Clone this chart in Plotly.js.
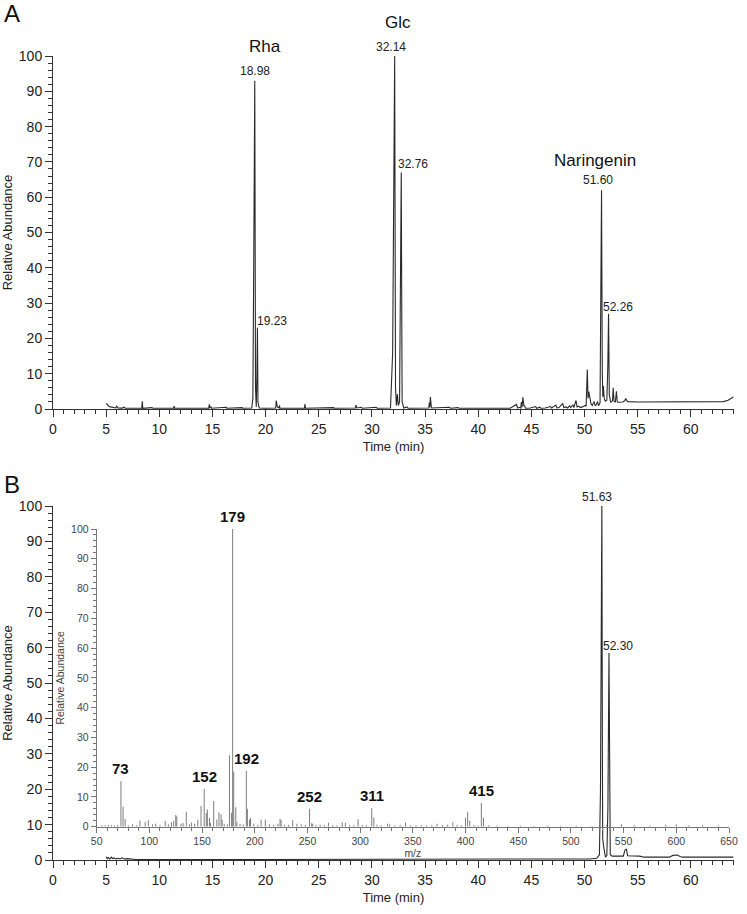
<!DOCTYPE html>
<html><head><meta charset="utf-8">
<script src="https://cdn.plot.ly/plotly-3.0.1.min.js"></script>
<style>html,body{margin:0;padding:0;background:#fff}#chart{width:747px;height:914px}</style>
</head><body><div id="chart"></div>
<script>
// Panel A: chromatogram (time in min, relative abundance %)
const timeA = [5.0,5.1,5.25,5.4,5.6,5.9,6.0,6.1,6.5,6.7,6.8,7.5,8.35,8.4,8.45,9.3,9.4,11.35,11.4,11.45,14.65,14.7,14.75,14.85,14.9,16.3,16.35,17.8,17.85,
  18.7,18.8,18.88,18.98,19.05,19.12,19.18,19.23,19.28,19.4,20.0,20.95,21.0,21.1,21.25,21.3,21.35,23.65,23.7,23.75,26.4,26.45,28.45,28.5,28.6,29.0,29.1,30.4,30.5,
  31.75,31.95,32.05,32.14,32.22,32.3,32.4,32.48,32.6,32.68,32.76,32.84,33.0,33.3,33.4,35.35,35.4,35.45,35.5,35.6,37.3,37.4,38.1,38.2,43.0,
  43.6,43.7,43.9,44.0,44.06,44.12,44.2,44.3,44.35,44.45,44.9,45.4,45.5,45.8,45.9,46.3,46.8,46.9,47.3,47.4,47.6,47.95,48.05,48.26,48.4,48.6,48.7,48.9,49.0,
  49.2,49.3,49.45,49.6,49.8,50.05,50.15,50.26,50.33,50.4,50.5,50.6,50.73,50.9,51.0,51.08,51.24,51.3,51.36,51.46,51.53,51.6,51.67,51.72,51.77,51.85,51.95,
  52.1,52.19,52.26,52.33,52.45,52.56,52.63,52.7,52.77,52.9,53.0,53.08,53.3,53.6,53.8,53.87,54.05,55,56,57,58.2,59,60.9,61,62,63.06,63.5,64];
const abundA = [1.6,1.2,0.8,0.6,0.4,0.3,0.8,0.3,0.25,0.5,0.2,0.2,0.2,2.2,0.2,0.4,0.2,0.2,0.8,0.2,0.2,1.3,0.3,0.7,0.2,0.5,0.2,0.4,0.2,
  0.3,3,40,93,6,0.6,10,23,2,0.3,0.2,0.3,2.4,0.6,0.3,1,0.2,0.2,1.4,0.2,0.4,0.2,0.3,1.1,0.3,0.5,0.2,0.5,0.2,
  0.3,16,70,100,6,1,4.2,1,2,45,67,2,0.3,0.6,0.2,0.3,1.8,0.5,3.4,0.3,0.5,0.2,0.4,0.2,0.2,
  1.3,0.3,0.5,0.3,2,0.5,3.3,0.8,1,0.2,0.3,0.7,0.2,0.5,0.2,0.3,0.7,0.3,1.1,0.3,0.4,1.6,0.4,0.6,0.3,0.9,0.4,1.2,0.4,
  2.4,0.6,0.8,0.4,0.6,1,0.8,11.2,3,4.9,3.3,1.5,1,2.1,1,1.1,2.1,1,1.1,1.8,35,62,10,3.5,6.5,3,2.2,
  2.5,12,27,4,2,2,2.5,6,2.2,2,5,2,1.9,2,2.4,3,2.1,2,2,2,2.1,2.1,2.1,2,2,2.1,2.5,3.4];
const peaksA = ["18.98","19.23","32.14","32.76","51.60","52.26"];
const compoundsA = ["Rha","Glc","Naringenin"];

// Panel B: chromatogram
const timeB = [5.0,5.1,5.2,5.35,5.5,5.6,5.75,5.9,6.1,6.3,6.5,6.7,7.0,7.3,7.6,7.8,8.5,20,40,50,50.5,51.15,51.4,51.5,51.57,51.63,51.68,51.71,51.8,51.96,
  52.1,52.2,52.3,52.36,52.42,52.6,53.65,53.8,53.95,54.05,54.5,55.2,55.6,58.0,58.3,58.7,59.0,59.2,64];
const abundB = [0.9,0.4,0.7,0.3,0.8,0.4,0.6,0.3,0.5,0.3,0.6,0.3,0.4,0.25,0.3,0.15,0.1,0.1,0.1,0.2,0.3,0.5,1.5,20,80,100,30,6,3.8,0.9,
  1.2,15,58.5,6,1.5,1.1,1.1,2.8,3,1.2,1.2,1.1,0.8,0.8,1.3,1.4,1.0,0.8,0.8];
const peaksB = ["51.63","52.30"];

// Inset: mass spectrum (m/z, relative abundance %)
const mzInset = [55,58,61,64,67,70,73,75,77,80,84,88,91,96,99,103,106,110,115,118,121,123,125,126,130,132,135,138,140,143,146,149,152,154,155,157,158,161,164,166,168,169,171,174,176,178,179,180,182,183,186,189,192,193,195,196,199,203,206,210,214,218,222,224,225,228,232,236,240,244,248,252,254,255,258,262,266,270,274,278,283,286,290,294,298,302,306,311,313,316,320,326,328,333,338,343,348,353,358,363,368,373,378,383,388,392,396,400,402,404,408,412,415,417,422,430,440,452,465,478,490,505,520,534,548,560,575,590,600,612,625,640];
const intInset = [0.5,0.4,0.6,0.5,0.4,0.6,15.3,6.7,2.6,0.5,0.8,0.5,2,1.6,2.2,0.8,1,0.6,2,0.8,1.5,2,3.9,3.5,1,1.2,5,0.8,1.4,1,2.3,7,12.7,4.6,5.8,2.9,1.2,8.6,2.4,4.8,4.2,2.4,1,0.8,24,4.7,100,18.5,6.5,1.5,1,0.8,18.7,6,2.4,3,1,0.7,2.4,2.4,0.8,0.6,1,2.6,2.2,0.7,0.6,2.2,1,0.8,0.6,6,1.2,1,0.6,0.7,0.6,1.3,0.6,0.5,1.5,1.3,0.6,0.5,2.5,0.6,0.5,6.2,3.1,0.7,0.5,1,0.8,0.5,0.6,1.4,0.5,0.5,0.6,0.4,0.6,1,0.6,0.7,1.5,0.6,0.5,3,5,2,0.6,0.4,8,3.1,0.5,0.4,0.3,0.4,0.3,0.4,0.3,0.4,0.3,0.6,0.8,0.5,0.4,0.6,0.8,0.5,0.6,0.4];
const labelledMz = [73,152,179,192,252,311,415];

const FONT = 'Liberation Sans, Arial, Helvetica, sans-serif';
const W = 747, H = 914;
const px = (a,b) => [a/W, b/W];
const py = (top,bottom) => [1-bottom/H, 1-top/H];

// build stick segments from the inset arrays
const stickX = [], stickY = [];
mzInset.forEach((m,i) => { stickX.push(m,m,null); stickY.push(0,intInset[i],null); });

const traces = [
  {x: timeA, y: abundA, xaxis:'x', yaxis:'y', type:'scatter', mode:'lines', line:{color:'#2a2a2a', width:1.1}, hoverinfo:'x+y'},
  {x: timeB, y: abundB, xaxis:'x2', yaxis:'y2', type:'scatter', mode:'lines', line:{color:'#2a2a2a', width:1.1}, hoverinfo:'x+y'},
  {x: stickX, y: stickY, xaxis:'x3', yaxis:'y3', type:'scatter', mode:'lines', line:{color:'#7d7d7d', width:1}, connectgaps:false, hoverinfo:'x+y'}
];

function mainX(dom, anchor, titleText){
  return {domain: dom, anchor: anchor, range:[0,64.06], showline:true, linecolor:'#333', linewidth:1,
    ticks:'outside', ticklen:7, tickwidth:1, tickcolor:'#333', tick0:0, dtick:5,
    minor:{ticks:'outside', dtick:1, ticklen:4, tickcolor:'#333', tickwidth:1, showgrid:false},
    showgrid:false, zeroline:false, tickfont:{family:FONT, size:14, color:'#222'},
    title:{text:titleText, font:{family:FONT, size:13, color:'#222'}, standoff:6}, fixedrange:true};
}
function mainY(dom, anchor){
  return {domain: dom, anchor: anchor, range:[0,100], showline:true, linecolor:'#333', linewidth:1,
    ticks:'outside', ticklen:7, tickwidth:1, tickcolor:'#333', tick0:0, dtick:10,
    minor:{ticks:'outside', dtick:2, ticklen:4, tickcolor:'#333', tickwidth:1, showgrid:false},
    showgrid:false, zeroline:false, tickfont:{family:FONT, size:14, color:'#222'},
    title:{text:'Relative Abundance', font:{family:FONT, size:13, color:'#222'}, standoff:8}, fixedrange:true};
}

const ann = [];
ann.push({text:'A', xref:'paper', yref:'paper', x:2/W, y:1-14/H, xanchor:'left', yanchor:'middle', showarrow:false, font:{family:FONT, size:24, color:'#111'}});
ann.push({text:'B', xref:'paper', yref:'paper', x:2/W, y:1-484/H, xanchor:'left', yanchor:'middle', showarrow:false, font:{family:FONT, size:24, color:'#111'}});
// compound names
ann.push({text:compoundsA[0], xref:'x', yref:'y', x:19.94, y:100, yshift:9, xanchor:'center', yanchor:'middle', showarrow:false, font:{family:FONT, size:17, color:'#111'}});
ann.push({text:compoundsA[1], xref:'x', yref:'y', x:32.46, y:100, yshift:33, xanchor:'center', yanchor:'middle', showarrow:false, font:{family:FONT, size:17, color:'#111'}});
ann.push({text:compoundsA[2], xref:'x', yref:'y', x:51.0, y:70.3, xanchor:'center', yanchor:'middle', showarrow:false, font:{family:FONT, size:17, color:'#111'}});
// retention time labels (A)
const rtFont = {family:FONT, size:12, color:'#222'};
ann.push({text:peaksA[0], xref:'x', yref:'y', x:18.98, y:93, yanchor:'bottom', xanchor:'center', yshift:1, showarrow:false, font:rtFont});
ann.push({text:peaksA[1], xref:'x', yref:'y', x:19.23, y:23, yanchor:'bottom', xanchor:'left', xshift:-2, yshift:-2, showarrow:false, font:rtFont});
ann.push({text:peaksA[2], xref:'x', yref:'y', x:32.14, y:100, yanchor:'bottom', xanchor:'center', xshift:-4, yshift:0, showarrow:false, font:rtFont});
ann.push({text:peaksA[3], xref:'x', yref:'y', x:32.76, y:67, yanchor:'bottom', xanchor:'left', xshift:-5, yshift:-1, showarrow:false, font:rtFont});
ann.push({text:peaksA[4], xref:'x', yref:'y', x:51.60, y:62, yanchor:'bottom', xanchor:'center', xshift:-4, yshift:1, showarrow:false, font:rtFont});
ann.push({text:peaksA[5], xref:'x', yref:'y', x:52.26, y:27, yanchor:'bottom', xanchor:'left', xshift:-8, yshift:-2, showarrow:false, font:rtFont});
// retention time labels (B)
ann.push({text:peaksB[0], xref:'x2', yref:'y2', x:51.63, y:100, yanchor:'bottom', xanchor:'center', xshift:-5, yshift:0, showarrow:false, font:rtFont});
ann.push({text:peaksB[1], xref:'x2', yref:'y2', x:52.30, y:58.5, yanchor:'bottom', xanchor:'left', xshift:-8, yshift:-2, showarrow:false, font:rtFont});
// inset m/z labels
labelledMz.forEach(m => {
  const v = intInset[mzInset.indexOf(m)];
  ann.push({text:'<b>'+m+'</b>', xref:'x3', yref:'y3', x:m, y:v, yanchor:'bottom', xanchor:'center', yshift:2, showarrow:false, font:{family:FONT, size:15, color:'#111'}});
});

const layout = {
  width:W, height:H, margin:{l:0, r:0, t:0, b:0}, paper_bgcolor:'#fff', plot_bgcolor:'rgba(0,0,0,0)',
  showlegend:false, font:{family:FONT, color:'#222'},
  xaxis: mainX(px(53,734), 'y', 'Time (min)'),
  yaxis: mainY(py(56,409), 'x'),
  xaxis2: mainX(px(53,734), 'y2', 'Time (min)'),
  yaxis2: mainY(py(506,860), 'x2'),
  xaxis3: {domain: px(96.7,729), anchor:'y3', range:[50,650], showline:true, linecolor:'#777', linewidth:1,
    ticks:'outside', ticklen:5, tickcolor:'#777', tick0:50, dtick:50,
    minor:{ticks:'outside', dtick:10, ticklen:3, tickcolor:'#777', showgrid:false},
    showgrid:false, zeroline:false, tickfont:{family:FONT, size:10.5, color:'#444'},
    title:{text:'m/z', font:{family:FONT, size:10.5, color:'#444'}, standoff:0}, fixedrange:true},
  yaxis3: {domain: py(529,826.7), anchor:'x3', range:[0,100], showline:true, linecolor:'#777', linewidth:1,
    ticks:'outside', ticklen:5, tickcolor:'#777', tick0:0, dtick:10,
    minor:{ticks:'outside', dtick:2, ticklen:3, tickcolor:'#777', showgrid:false},
    showgrid:false, zeroline:false, tickfont:{family:FONT, size:10.5, color:'#444'},
    title:{text:'Relative Abundance', font:{family:FONT, size:10.5, color:'#444'}, standoff:4}, fixedrange:true},
  annotations: ann
};

Plotly.newPlot('chart', traces, layout, {displayModeBar:false, staticPlot:true});
</script>
</body></html>
